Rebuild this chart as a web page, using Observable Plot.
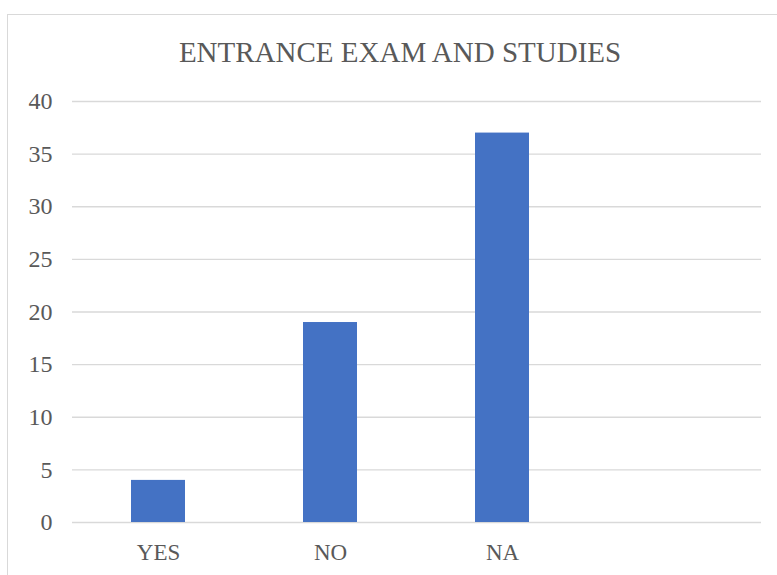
<!DOCTYPE html>
<html>
<head>
<meta charset="utf-8">
<script src="https://cdn.jsdelivr.net/npm/d3@7"></script>
<script src="https://cdn.jsdelivr.net/npm/@observablehq/plot@0.6"></script>
<style>
  html, body { margin: 0; padding: 0; background: #fff; overflow: hidden; }
  body { width: 777px; height: 575px; position: relative; font-family: 'Liberation Serif', serif; }
  #frame { position: absolute; left: 7px; top: 14px; width: 800px; height: 600px; border: 1px solid #d9d9d9; box-sizing: border-box; }
  #title { position: absolute; left: 0; width: 800px; top: 34px; text-align: center; font-family: 'Liberation Serif', serif; font-size: 29px; color: #595959; line-height: 36px; }
  #chart { position: absolute; left: 0; top: 80px; }
</style>
</head>
<body>
<div id="frame"></div>
<div id="title">ENTRANCE EXAM AND STUDIES</div>
<div id="chart"></div>
<script>
const categories = ["YES", "NO", "NA", ""];
const counts = [4, 19, 37];
const yTicks = [0, 5, 10, 15, 20, 25, 30, 35, 40];

const data = counts.map((v, i) => ({ category: categories[i], count: v }));

const chart = Plot.plot({
  width: 777,
  height: 495,
  marginLeft: 72,
  marginRight: 16,
  marginTop: 21,
  marginBottom: 53,
  style: { fontFamily: "'Liberation Serif', serif", color: "#595959", background: "transparent" },
  x: { domain: categories, paddingInner: 0.686, paddingOuter: 0.343, label: null },
  y: { domain: [0, 40], label: null },
  marks: [
    Plot.ruleY(yTicks, { stroke: "#d9d9d9", strokeWidth: 1.3 }),
    Plot.barY(data, { x: "category", y: "count", fill: "#4472c4" }),
    Plot.axisY(yTicks, { tickSize: 0, tickPadding: 20, fontSize: 24, label: null, fill: "#595959" }),
    Plot.axisX({ tickSize: 0, tickPadding: 21, fontSize: 23, label: null, fill: "#595959" })
  ]
});
document.getElementById("chart").appendChild(chart);
</script>
</body>
</html>
